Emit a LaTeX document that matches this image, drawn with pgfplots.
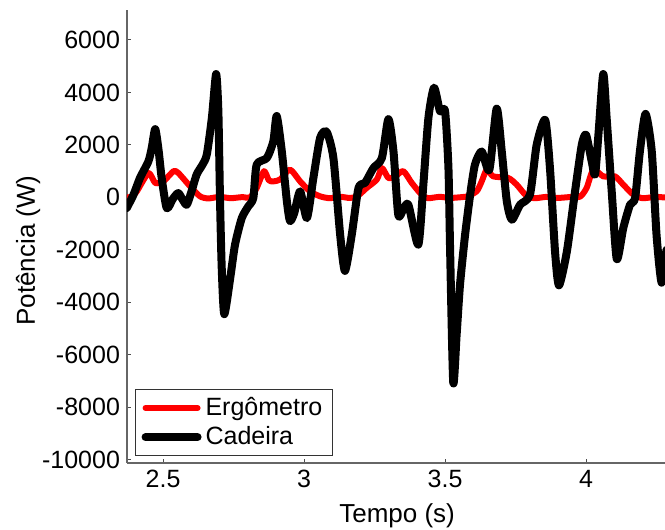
\documentclass[border=0pt]{standalone}
\usepackage{fontspec}
\setmainfont{Liberation Sans}
\usepackage{pgfplots}
\pgfplotsset{compat=1.18}
\usetikzlibrary{calc}

\newcommand{\lblfont}{\fontsize{12.5}{15}\selectfont}

\begin{document}
\begin{tikzpicture}
\begin{axis}[
  scale only axis,
  width=269pt, height=226.5pt,
  xmin=2.372, xmax=4.28,
  ymin=-10120, ymax=7140,
  axis lines=left,
  axis line style={-, draw=black!60, line width=0.6pt},
  xtick={2.5,3,3.5,4},
  xticklabels={2.5,3,3.5,4},
  ytick={-10000,-8000,...,6000},
  yticklabels={-10000,-8000,-6000,-4000,-2000,0,2000,4000,6000},
  scaled y ticks=false,
  tick align=inside,
  major tick length=2pt,
  tick style={black!70, line width=0.5pt},
  ticklabel style={font=\lblfont},
  xlabel={Tempo (s)},
  ylabel={Potência (W)},
  label style={font=\fontsize{13}{15}\selectfont},
  xlabel style={at={(axis description cs:0.502,-0.117)}, anchor=center},
  ylabel style={at={(axis description cs:-0.184,0.469)}, anchor=center},
  legend style={at={(rel axis cs:0.015,0.015)}, anchor=south west,
    draw=black!80, line width=0.5pt, font=\lblfont,
    inner xsep=3pt, inner ysep=2pt, cells={anchor=west}},
  legend image code/.code={\draw[#1] (0pt,0pt) -- (26pt,0pt);},
]

% Ergometro
\addplot[red, line width=3pt, line join=round, line cap=round, smooth, tension=0.4] coordinates {
(2.370,0) (2.390,30) (2.407,230) (2.448,930) (2.472,550) (2.501,610)
(2.537,1000) (2.554,930) (2.596,420) (2.631,40) (2.660,-40) (2.700,20)
(2.740,-30) (2.780,10) (2.808,0) (2.832,360) (2.858,1000) (2.875,650)
(2.891,610) (2.915,680) (2.950,1060) (2.986,610) (3.021,230) (3.057,40)
(3.090,-30) (3.130,20) (3.160,-20) (3.187,30) (3.222,360) (3.258,680)
(3.276,1120) (3.299,740) (3.323,800) (3.352,1000) (3.382,550) (3.417,100)
(3.440,-30) (3.480,20) (3.520,-20) (3.560,10) (3.577,30) (3.612,230)
(3.630,610) (3.648,1060) (3.671,800) (3.724,740) (3.754,485) (3.790,40)
(3.820,-30) (3.860,20) (3.900,-20) (3.940,10) (3.979,30) (4.002,360)
(4.026,1060) (4.061,800) (4.103,800) (4.132,485) (4.168,100) (4.200,-30)
(4.240,10) (4.285,0)
};
\addlegendentry{Ergômetro}

% Cadeira
\addplot[black, line width=4pt, line join=round, line cap=round, smooth, tension=0.4] coordinates {
(2.371,-410) (2.395,100) (2.418,740) (2.448,1375) (2.460,1900) (2.472,2600)
(2.484,1800) (2.495,740) (2.513,-410) (2.535,-50) (2.554,165) (2.570,-100)
(2.584,-280) (2.600,200) (2.619,870) (2.640,1250) (2.655,1630) (2.673,3030)
(2.688,4700) (2.696,3285) (2.702,-150) (2.708,-2700) (2.717,-4450)
(2.738,-3080) (2.755,-1810) (2.779,-790) (2.802,-345) (2.820,-25)
(2.832,1250) (2.868,1500) (2.891,2140) (2.903,3100) (2.921,1760)
(2.939,-150) (2.950,-900) (2.965,-600) (2.986,230) (3.010,-790) (3.033,740)
(3.057,2270) (3.080,2500) (3.104,1500) (3.128,-1430) (3.145,-2800)
(3.169,-1430) (3.193,360) (3.216,550) (3.246,1120) (3.276,1500)
(3.299,2980) (3.317,1760) (3.334,-660) (3.352,-450) (3.370,-280)
(3.405,-1800) (3.423,485) (3.441,3030) (3.461,4180) (3.482,3285)
(3.500,3285) (3.512,1120) (3.518,-2060) (3.529,-7050) (3.541,-5240)
(3.553,-3330) (3.571,-1430) (3.589,100) (3.606,1250) (3.630,1750)
(3.657,1050) (3.683,3380) (3.701,1760) (3.719,-150) (3.737,-850)
(3.766,-280) (3.801,100) (3.825,2010) (3.855,2950) (3.872,1120)
(3.890,-2060) (3.904,-3350) (3.932,-2060) (3.961,230) (3.985,2010)
(4.000,2380) (4.020,1375) (4.032,870) (4.044,2400) (4.061,4700)
(4.073,3030) (4.091,230) (4.109,-2350) (4.132,-1170) (4.156,-280)
(4.174,-25) (4.191,1760) (4.211,3180) (4.233,1760) (4.250,-1430)
(4.268,-3250) (4.285,-2000)
};
\addlegendentry{Cadeira}

\coordinate (bl) at (rel axis cs:0,0);
\coordinate (tr) at (rel axis cs:1,1);
\end{axis}
\pgfresetboundingbox
\path[use as bounding box] ($(bl)+(-63.5pt,-33.5pt)$) rectangle ($(tr)+(0pt,5pt)$);
\end{tikzpicture}
\end{document}
